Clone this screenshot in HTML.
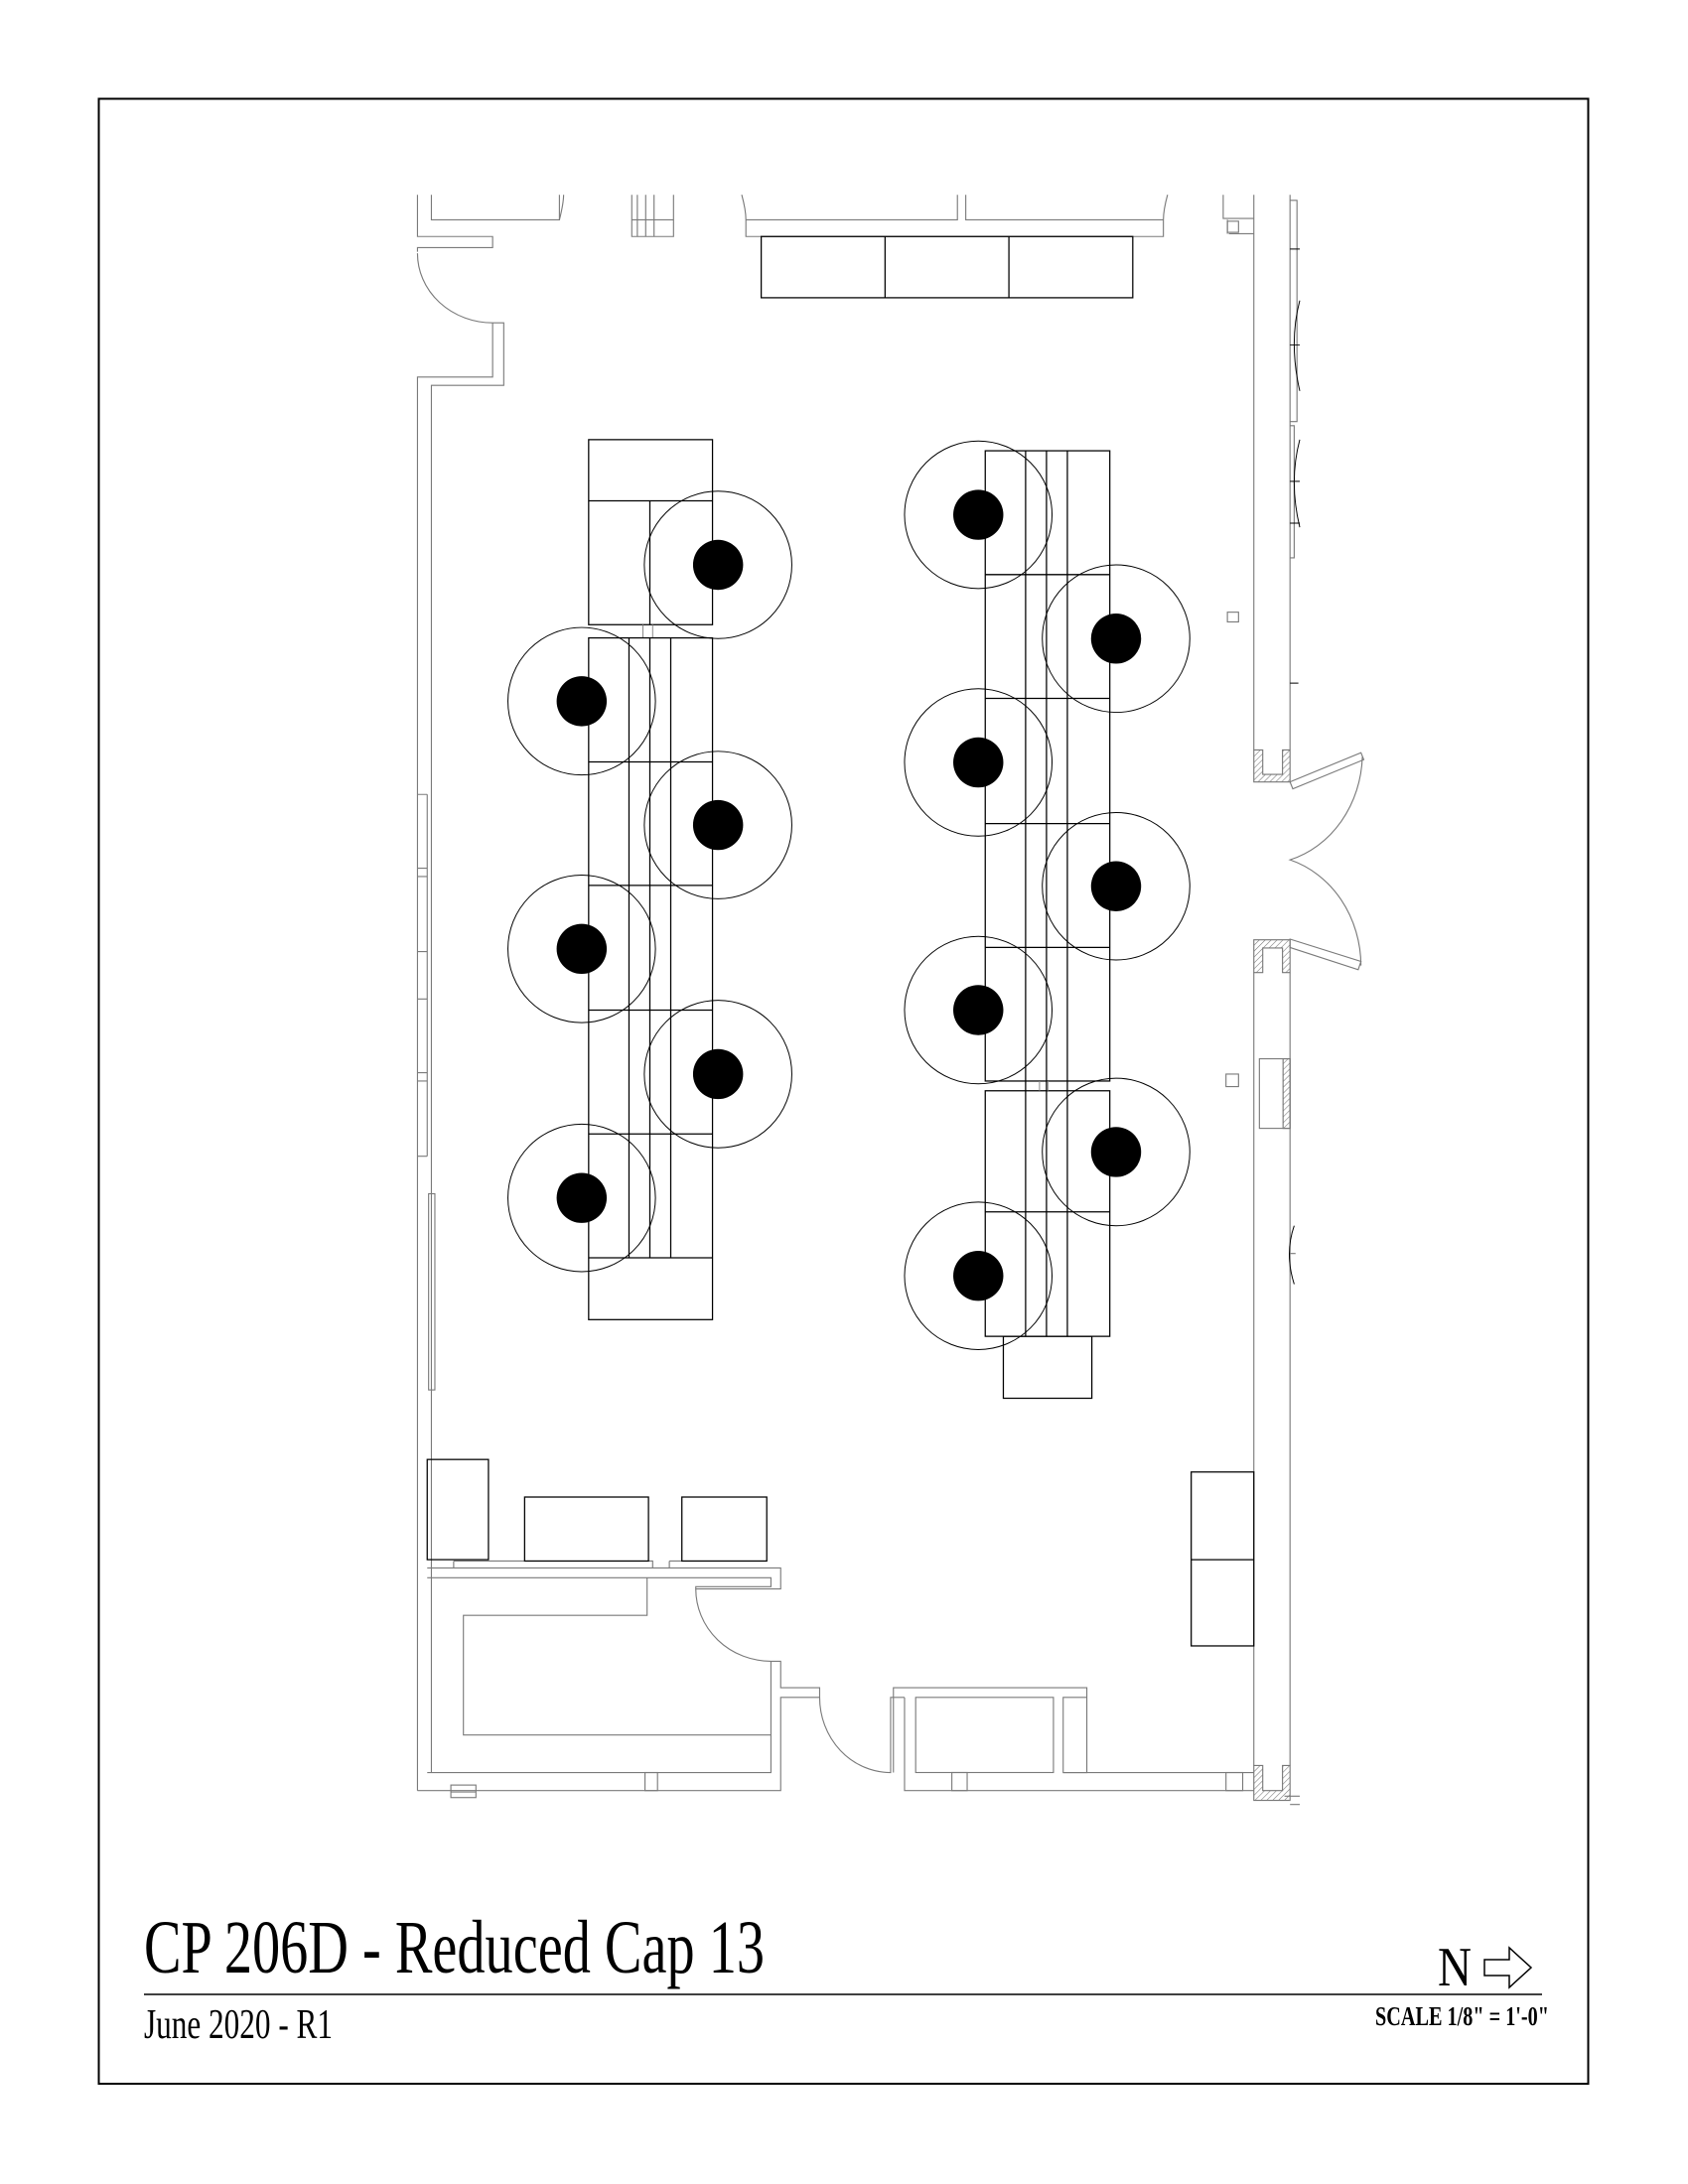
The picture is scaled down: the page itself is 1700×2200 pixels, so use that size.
<!DOCTYPE html>
<html><head><meta charset="utf-8"><style>
html,body{margin:0;padding:0;background:#fff;}
svg{display:block;}
</style></head><body>
<svg width="1700" height="2200" viewBox="0 0 1700 2200" xmlns="http://www.w3.org/2000/svg">
<defs>
<pattern id="h" width="3" height="3" patternUnits="userSpaceOnUse" patternTransform="rotate(45)">
<line x1="0" y1="0" x2="0" y2="3" stroke="#777" stroke-width="0.8"/>
</pattern>
</defs>
<rect x="99.5" y="99.5" width="1500" height="1999.5" fill="none" stroke="#000" stroke-width="2"/>

<g transform="translate(99.5 99.5) scale(1.4015) translate(-70 -70)" fill="none" stroke-linejoin="miter">
<g stroke="#7a7a7a" stroke-width="0.8">
<path d="M299,139 V169 H353 V177 H299 V180"/>
<path d="M309,139 V157 H401 V139"/>
<path d="M401,157 Q404,145 404,139"/>
<path d="M299,181 A54,50 0 0 0 353,231 H361 V276 H309 V1273"/>
<path d="M353,231 V270 H299 V1286"/>
<path d="M453,139 V169 H483 V139 M457,139 V169 M463,139 V169 M469,139 V169 M453,157 H483"/>
<path d="M532,139 Q535,150 535,157 V169 H835 V157 Q835,150 838,139"/>
<path d="M535,157 H687 V139 M693,139 V157 H835"/>
<path d="M878,139 V156 H900 M882,167 H900 M881,157 V167"/>
<rect x="881" y="158" width="8" height="8"/>
<path d="M900,139 V538 M926,139 V538"/>
<path d="M900,698 V1268 M926,698 V1268"/>
<rect x="881" y="439" width="8" height="7"/>
<rect x="880" y="771" width="9" height="9"/>
<rect x="904" y="760" width="22" height="50"/>
<path d="M306,570 V830 M299,570 H306 M299,623 H306 M299,629 H306 M299,683 H306 M299,717 H306 M299,770 H306 M299,776 H306 M299,830 H306"/>
<rect x="307" y="857" width="4.5" height="141"/>
<path d="M306,1126 H560 V1141 H499 V1139.4 H553 V1133 H306"/>
<path d="M464,1133 V1160 H332 V1246 H553"/>
<path d="M499,1141 A54,52 0 0 0 553,1193 H560 V1212 H588 V1219 H560 V1286 H299"/>
<path d="M553,1193 V1273 H306"/>
<path d="M325,1121 H468 V1126 M325,1121 V1126 M480,1121 H550 M480,1121 V1126"/>
<path d="M588,1219 A51,54 0 0 0 639,1273 V1219 H641 V1212 H780 V1273 H763 V1219 H780 M641,1212 V1273"/>
<path d="M649,1219 V1286 H900 M649,1219 H641"/>
<rect x="657" y="1219" width="99" height="54"/>
<path d="M763,1273 H900"/>
<rect x="462.5" y="1273" width="9" height="13"/>
<rect x="683" y="1273" width="11" height="13"/>
<rect x="880" y="1273" width="12" height="13"/>
<rect x="323" y="1282" width="18" height="9"/>
<path d="M323,1287 H341"/>
<path d="M926,561 L977,540 L979,545 L928,566 Z"/>
<path d="M926,674 L977,690 L975,696 L926,680 Z"/>
<path d="M978,543 A72,80 0 0 1 926,617 A72,80 0 0 1 977,693"/>
<path d="M926,143 H931 V302 H926 M926,305 H929 V400 H926"/>
<path d="M926,900 H930 M922,1290 H933 M926,1296 H933"/>
</g>
<g stroke="#000" stroke-width="0.7">
<path d="M926,178 H933 M926,247 H933 M926,345 H933 M926,375 H933 M926,490 H932"/>
<path d="M933,215 Q925,245 933,280 M933,315 Q925,345 933,378 M929,880 Q922,900 929,922"/>
</g>
<g stroke="#777" stroke-width="0.8" fill="url(#h)">
<path d="M900,538 H906.4 V555.6 H920.6 V538 H926 V561 H900 Z"/>
<path d="M900,698 H906.4 V680.4 H920.6 V698 H926 V674.5 H900 Z"/>
<path d="M900,1293 H926 V1268 H920.6 V1286 H906.4 V1268 H900 Z"/>
<rect x="921" y="760" width="5" height="50"/>
</g>

<g stroke="#000" stroke-width="0.9">
<rect x="546" y="169" width="267" height="44"/>
<path d="M635,169 V213 M724,169 V213"/>
<rect x="422" y="315" width="89" height="133"/>
<path d="M422,359 H511 M466,359 V448"/>
<path d="M461,448 V457.5 M468,448 V457.5" stroke="#888" stroke-width="0.7"/>
<rect x="422" y="457.5" width="89" height="490"/>
<path d="M451,457.5 V903 M466,457.5 V903 M481,457.5 V903"/>
<path d="M422,546.6 H511 M422,635.4 H511 M422,725 H511 M422,814 H511 M422,903 H511"/>
<rect x="707" y="323" width="89.5" height="453"/>
<rect x="707" y="783" width="89.5" height="176.5"/>
<path d="M736,323 V959.5 M751,323 V959.5 M766,323 V959.5"/>
<path d="M707,412 H796.5 M707,501 H796.5 M707,591 H796.5 M707,680 H796.5 M707,870 H796.5"/>
<path d="M746,776 V783 M752,776 V783" stroke="#888" stroke-width="0.7"/>
<rect x="720" y="959.5" width="63.6" height="44.5"/>
<rect x="306" y="1048" width="44" height="72"/>
<rect x="376" y="1075" width="89" height="46"/>
<rect x="489" y="1075" width="61" height="46"/>
<rect x="855" y="1057" width="45" height="125"/>
<path d="M855,1120 H900"/>
</g>

<g stroke="#000" stroke-width="0.7">
<circle cx="515" cy="405" r="53"/>
<circle cx="417" cy="503" r="53"/>
<circle cx="515" cy="592" r="53"/>
<circle cx="417" cy="681" r="53"/>
<circle cx="515" cy="771" r="53"/>
<circle cx="417" cy="860" r="53"/>
<circle cx="702" cy="369" r="53"/>
<circle cx="801" cy="458" r="53"/>
<circle cx="702" cy="547" r="53"/>
<circle cx="801" cy="636" r="53"/>
<circle cx="702" cy="725" r="53"/>
<circle cx="801" cy="827" r="53"/>
<circle cx="702" cy="916" r="53"/>
</g>
<g fill="#000">
<circle cx="515" cy="405" r="18"/>
<circle cx="417" cy="503" r="18"/>
<circle cx="515" cy="592" r="18"/>
<circle cx="417" cy="681" r="18"/>
<circle cx="515" cy="771" r="18"/>
<circle cx="417" cy="860" r="18"/>
<circle cx="702" cy="369" r="18"/>
<circle cx="801" cy="458" r="18"/>
<circle cx="702" cy="547" r="18"/>
<circle cx="801" cy="636" r="18"/>
<circle cx="702" cy="725" r="18"/>
<circle cx="801" cy="827" r="18"/>
<circle cx="702" cy="916" r="18"/>
</g>
</g>

<text x="145" y="1987" font-family="Liberation Serif, serif" font-size="76" textLength="625" lengthAdjust="spacingAndGlyphs">CP 206D - Reduced Cap 13</text>
<line x1="145" y1="2009" x2="1553" y2="2009" stroke="#000" stroke-width="1.5"/>
<text x="145" y="2053" font-family="Liberation Serif, serif" font-size="42" textLength="190" lengthAdjust="spacingAndGlyphs">June 2020 - R1</text>
<text x="1448" y="2000" font-family="Liberation Serif, serif" font-size="56" textLength="34" lengthAdjust="spacingAndGlyphs">N</text>
<path d="M1495,1974 H1520 V1962 L1542,1982 L1520,2002 V1990 H1495 Z" fill="none" stroke="#000" stroke-width="1.5"/>
<text x="1385" y="2040" font-family="Liberation Serif, serif" font-size="27" font-weight="bold" textLength="175" lengthAdjust="spacingAndGlyphs">SCALE 1/8" = 1'-0"</text>
</svg>
</body></html>
